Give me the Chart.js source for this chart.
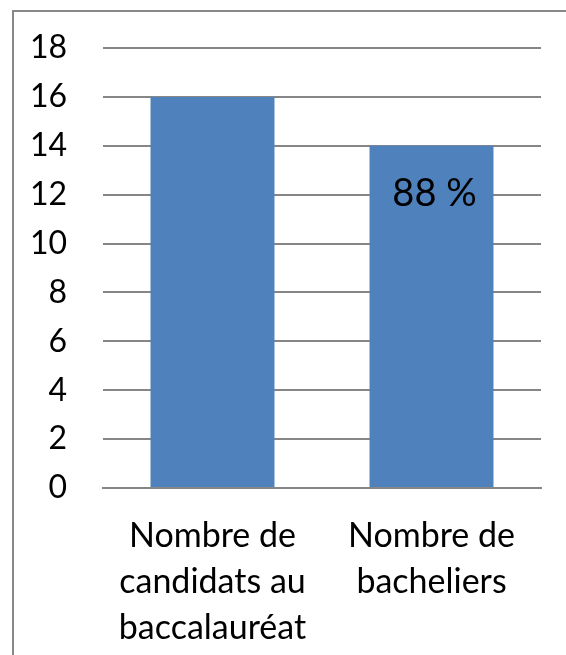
<!DOCTYPE html>
<html lang="fr">
<head>
<meta charset="UTF-8">
<title>Baccalauréat</title>
<script src="https://cdn.jsdelivr.net/npm/chart.js"></script>
<style>
    body { margin: 0; background: #fff; }
    #wrap { position: relative; width: 566px; height: 655px; overflow: hidden; }
    #frame {
        position: absolute; left: 12px; top: 10px; width: 700px; height: 800px;
        border-left: 2px solid #888; border-top: 2px solid #888;
    }
    canvas { position: absolute; left: 0; top: 0; }
</style>
</head>
<body>
<div id="wrap">
    <div id="frame"></div>
    <canvas id="barChart" width="566" height="655"></canvas>
</div>
<script>
var categories = [
    ['Nombre de', 'candidats au', 'baccalauréat'],
    ['Nombre de', 'bacheliers']
];
var values = [16, 14];
var barLabels = ['', '88 %'];
var yTicks = [0, 2, 4, 6, 8, 10, 12, 14, 16, 18];

var fontFamily = 'Lato, "Open Sans", sans-serif';

// draws the "88 %" text inside the bar
var insideLabels = {
    id: 'insideLabels',
    afterDatasetsDraw: function (chart) {
        var ctx = chart.ctx;
        var meta = chart.getDatasetMeta(0);
        ctx.save();
        ctx.font = '38px ' + fontFamily;
        ctx.fillStyle = '#000';
        ctx.textAlign = 'center';
        ctx.textBaseline = 'middle';
        meta.data.forEach(function (bar, i) {
            if (barLabels[i]) {
                ctx.fillText(barLabels[i], bar.x + 3, bar.y + 48);
            }
        });
        ctx.restore();
    }
};

var ctx = document.getElementById('barChart').getContext('2d');
var chart = new Chart(ctx, {
    type: 'bar',
    data: {
        labels: categories,
        datasets: [{
            data: values,
            backgroundColor: '#4F81BD',
            borderWidth: 0,
            barPercentage: 0.566,
            categoryPercentage: 1
        }]
    },
    options: {
        responsive: false,
        animation: false,
        layout: { padding: { left: 14, right: 25, top: 48, bottom: 0 } },
        plugins: {
            legend: { display: false },
            tooltip: { enabled: false }
        },
        scales: {
            x: {
                grid: { display: false, drawTicks: false },
                border: { color: '#868686', width: 2 },
                ticks: {
                    color: '#000',
                    padding: 25,
                    maxRotation: 0,
                    autoSkip: false,
                    font: { family: fontFamily, size: 34, lineHeight: 1.35 }
                },
                afterFit: function (scale) {
                    scale.height = 655 - 488;
                    scale.paddingLeft = 0;
                    scale.paddingRight = 0;
                }
            },
            y: {
                min: 0,
                max: 18,
                afterBuildTicks: function (scale) {
                    scale.ticks = yTicks.map(function (v) { return { value: v }; });
                },
                grid: { color: '#868686', lineWidth: 2, drawTicks: false },
                border: { display: false },
                ticks: {
                    color: '#000',
                    padding: 36,
                    font: { family: fontFamily, size: 32 }
                },
                afterFit: function (scale) {
                    scale.width = 103 - 14;
                    scale.paddingTop = 0;
                    scale.paddingBottom = 0;
                }
            }
        }
    },
    plugins: [insideLabels]
});
</script>
</body>
</html>
